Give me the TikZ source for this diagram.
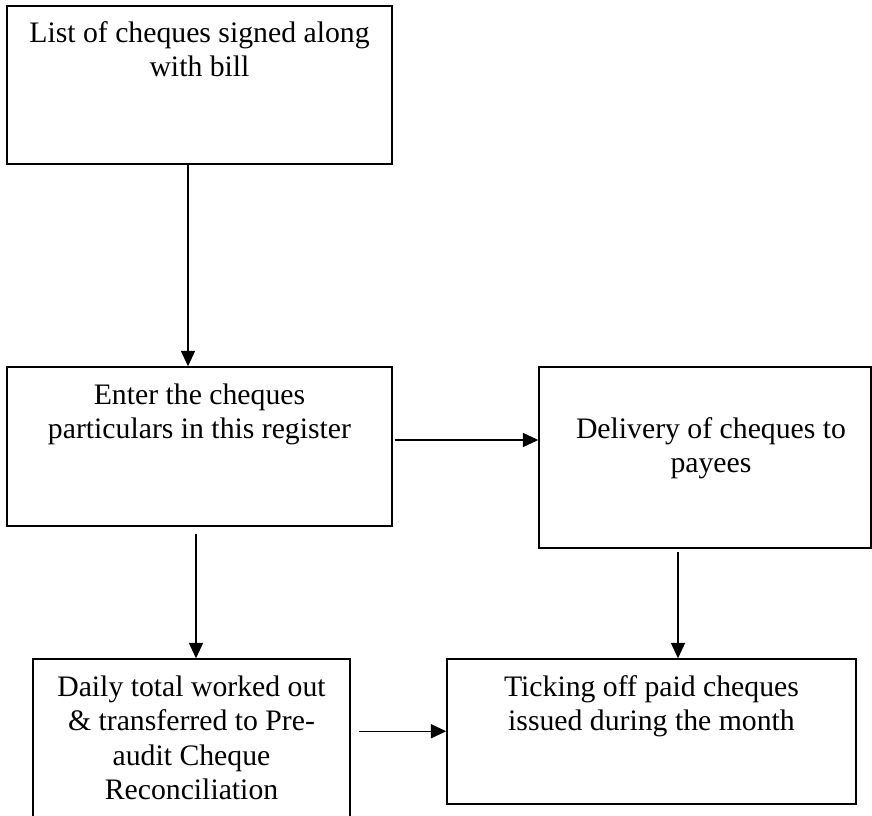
\documentclass[tikz,border=0pt]{standalone}
\usepackage{fontspec}
\setmainfont{Liberation Serif}
\usetikzlibrary{arrows.meta,calc}

% centred block of lines whose reference point is the first baseline
\newcommand{\flowlines}[1]{\parbox[t]{12cm}{\centering\fontsize{22.3pt}{25.9pt}\selectfont #1}}

\begin{document}
\begin{tikzpicture}[x=0.75pt,y=-0.75pt,
  stepbox/.style={draw,line width=1.1pt,rectangle,inner sep=0pt},
  label/.style={inner sep=0pt,anchor=base},
  flow/.style={line width=1.1pt,-{Triangle[length=11.5pt,width=10.5pt]}}]
\useasboundingbox (0,0) rectangle (872,816);
\clip (0,0) rectangle (872,816);

% process boxes
\node[stepbox,minimum width=385*0.75pt,minimum height=158*0.75pt] (b1) at (199.5,85) {};
\node[stepbox,minimum width=385*0.75pt,minimum height=159*0.75pt] (b2) at (199.5,446.5) {};
\node[stepbox,minimum width=332*0.75pt,minimum height=181*0.75pt] (b3) at (705,457.5) {};
\node[stepbox,minimum width=317*0.75pt,minimum height=166*0.75pt] (b4) at (191.5,742) {};
\node[stepbox,minimum width=409*0.75pt,minimum height=145*0.75pt] (b5) at (651.5,731.5) {};

% box texts
\node[label] (t1) at ($(b1.north)+(0,37)$) {\flowlines{List of cheques signed along\\with bill}};
\node[label] (t2) at ($(b2.north)+(0,38)$) {\flowlines{Enter the cheques\\particulars in this register}};
\node[label] (t3) at ($(b3.north)+(6,72)$) {\flowlines{Delivery of cheques to\\payees}};
\node[label] (t4) at ($(b4.north)+(0,38)$) {\flowlines{Daily total worked out\\\& transferred to Pre-\\audit Cheque\\Reconciliation}};
\node[label] (t5) at ($(b5.north)+(0,38)$) {\flowlines{Ticking off paid cheques\\issued during the month}};

% connectors
\coordinate (a1s) at ($(b1.south)+(-11.5,0)$);
\draw[flow] (a1s) -- (a1s |- b2.north);

\coordinate (a2s) at ($(b2.east)+(2,-6.5)$);
\draw[flow] (a2s) -- (a2s -| b3.west);

\coordinate (a3s) at ($(b2.south)+(-3.5,7)$);
\draw[flow] (a3s) -- (a3s |- b4.north);

\coordinate (a4s) at ($(b3.south)+(-27,3)$);
\draw[flow] (a4s) -- (a4s |- b5.north);

\coordinate (a5s) at ($(b4.north east)+(8,73)$);
\draw[flow] (a5s) -- (a5s -| b5.west);
\end{tikzpicture}
\end{document}
